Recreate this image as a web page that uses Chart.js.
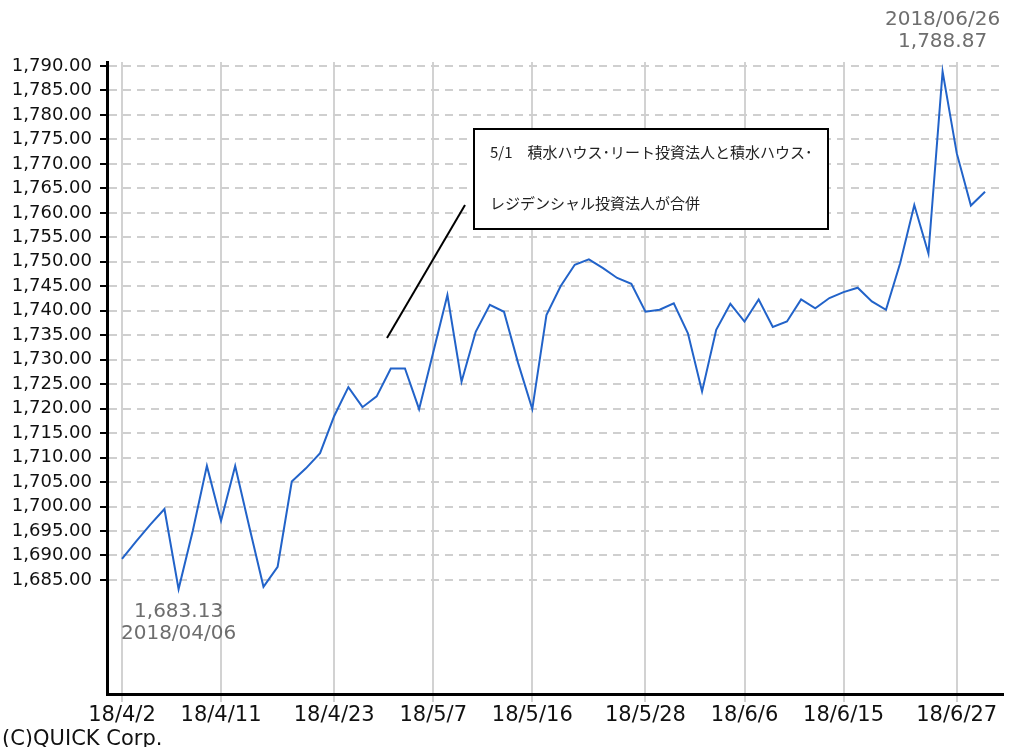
<!DOCTYPE html>
<html>
<head>
<meta charset="utf-8">
<script src="https://cdn.jsdelivr.net/npm/chart.js@4"></script>
<style>
  body { margin: 0; background: #fff; }
  #wrap { position: relative; width: 1011px; height: 747px; }
</style>
</head>
<body>
<div id="wrap"><canvas id="chart"></canvas></div>
<script>
// trading days shown on the chart
const days = [
  "2018/04/02", "2018/04/03", "2018/04/04", "2018/04/05", "2018/04/06",
  "2018/04/09", "2018/04/10", "2018/04/11", "2018/04/12", "2018/04/13",
  "2018/04/16", "2018/04/17", "2018/04/18", "2018/04/19", "2018/04/20",
  "2018/04/23", "2018/04/24", "2018/04/25", "2018/04/26", "2018/04/27",
  "2018/05/01", "2018/05/02", "2018/05/07", "2018/05/08", "2018/05/09",
  "2018/05/10", "2018/05/11", "2018/05/14", "2018/05/15", "2018/05/16",
  "2018/05/17", "2018/05/18", "2018/05/21", "2018/05/22", "2018/05/23",
  "2018/05/24", "2018/05/25", "2018/05/28", "2018/05/29", "2018/05/30",
  "2018/05/31", "2018/06/01", "2018/06/04", "2018/06/05", "2018/06/06",
  "2018/06/07", "2018/06/08", "2018/06/11", "2018/06/12", "2018/06/13",
  "2018/06/14", "2018/06/15", "2018/06/18", "2018/06/19", "2018/06/20",
  "2018/06/21", "2018/06/22", "2018/06/25", "2018/06/26", "2018/06/27",
  "2018/06/28", "2018/06/29"
];

const values = [
  1689.3, 1692.9, 1696.3, 1699.5, 1683.13,
  1695.0, 1708.3, 1697.1, 1708.3, 1695.8,
  1683.6, 1687.7, 1705.1, 1707.8, 1710.9,
  1718.5, 1724.4, 1720.3, 1722.5, 1728.2,
  1728.2, 1719.9, 1731.5, 1743.2, 1725.5,
  1735.7, 1741.2, 1739.8, 1729.3, 1719.9,
  1739.1, 1745.0, 1749.4, 1750.5, 1748.7,
  1746.7, 1745.5, 1739.8, 1740.2, 1741.5,
  1735.4, 1723.5, 1736.1, 1741.4, 1737.8,
  1742.3, 1736.7, 1737.8, 1742.3, 1740.5,
  1742.6, 1743.8, 1744.7, 1741.9, 1740.2,
  1749.7, 1761.6, 1751.7, 1788.87, 1772.2,
  1761.5, 1764.3
];

// x tick labels and the day index they sit on
const tickDays = [0, 7, 15, 22, 29, 37, 44, 51, 59];
const tickLabels = ["18/4/2", "18/4/11", "18/4/23", "18/5/7", "18/5/16", "18/5/28", "18/6/6", "18/6/15", "18/6/27"];

// y tick values
const yTicks = [];
for (let v = 1685; v <= 1790; v += 5) yTicks.push(v);

const noteLines = ["5/1\u3000積水ハウス･リート投資法人と積水ハウス･", "レジデンシャル投資法人が合併"];

const fmt = v => v.toLocaleString("en-US", { minimumFractionDigits: 2, maximumFractionDigits: 2 });

const annotations = {
  id: "annotations",
  afterDraw(chart) {
    const ctx = chart.ctx;
    const xs = chart.scales.x, ys = chart.scales.y;
    ctx.save();

    // max / min labels
    const maxI = values.indexOf(Math.max(...values));
    const minI = values.indexOf(Math.min(...values));
    ctx.fillStyle = "#6e6e6e";
    ctx.font = "20px 'DejaVu Sans'";
    ctx.textAlign = "center";
    ctx.textBaseline = "middle";
    const mx = xs.getPixelForValue(maxI);
    ctx.fillText(days[maxI], mx, 20);
    ctx.fillText(fmt(values[maxI]), mx, 42);
    const nx = xs.getPixelForValue(minI);
    const ny = ys.getPixelForValue(values[minI]);
    ctx.fillText(fmt(values[minI]), nx, ny + 23);
    ctx.fillText(days[minI], nx, ny + 45);

    // note box
    ctx.fillStyle = "#fff";
    ctx.fillRect(474, 129, 354, 100);
    ctx.strokeStyle = "#000";
    ctx.lineWidth = 2;
    ctx.strokeRect(474, 129, 354, 100);
    ctx.fillStyle = "#222";
    ctx.font = "15px 'Noto Sans CJK JP'";
    ctx.textAlign = "left";
    ctx.fillText(noteLines[0], 490, 152);
    ctx.fillText(noteLines[1], 490, 203);

    // pointer
    ctx.beginPath();
    ctx.moveTo(465, 205);
    ctx.lineTo(387, 338);
    ctx.stroke();

    // copyright
    ctx.fillStyle = "#111";
    ctx.font = "21px 'DejaVu Sans'";
    ctx.fillText("(C)QUICK Corp.", 2, 740);
    ctx.restore();
  }
};

new Chart(document.getElementById("chart"), {
  type: "line",
  data: {
    datasets: [{
      data: values.map((v, i) => ({ x: i, y: v })),
      borderColor: "#2263c9",
      borderWidth: 2,
      pointRadius: 0,
      tension: 0,
      fill: false
    }]
  },
  options: {
    responsive: true,
    maintainAspectRatio: false,
    animation: false,
    layout: { padding: { top: 62, right: 8, left: 0, bottom: 0 } },
    plugins: { legend: { display: false }, tooltip: { enabled: false } },
    scales: {
      x: {
        type: "linear",
        min: -1.06,
        max: 62.27,
        afterBuildTicks: s => { s.ticks = tickDays.map(v => ({ value: v })); },
        afterFit: s => { s.height = 53; },
        ticks: {
          autoSkip: false,
          maxRotation: 0,
          padding: 1,
          color: "#111",
          font: { family: "DejaVu Sans", size: 21 },
          callback: v => tickLabels[tickDays.indexOf(v)]
        },
        grid: { color: "#d2d2d2", lineWidth: 2, tickLength: 8, tickColor: "#d2d2d2" },
        border: { color: "#000", width: 3 }
      },
      y: {
        min: 1661.7,
        max: 1790.82,
        afterBuildTicks: s => { s.ticks = yTicks.map(v => ({ value: v })); },
        afterFit: s => { s.width = 107; },
        ticks: {
          padding: 8,
          color: "#111",
          font: { family: "DejaVu Sans", size: 18 },
          callback: v => fmt(v)
        },
        grid: { color: "#cfcfcf", lineWidth: 2, tickLength: 7, tickColor: "#000", tickWidth: 2 },
        border: { color: "#000", width: 3, dash: [8, 6] }
      }
    }
  },
  plugins: [annotations]
});
</script>
</body>
</html>
